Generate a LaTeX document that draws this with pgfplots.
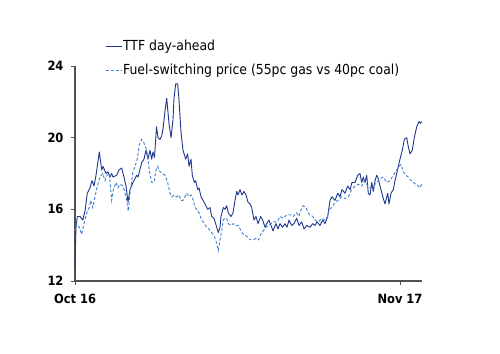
\documentclass[border=0pt]{standalone}
\usepackage{pgfplots}
\pgfplotsset{compat=1.18}
\usepackage{fontspec}
\setmainfont{DejaVu Sans Condensed}
\definecolor{ttf}{RGB}{30,55,140}
\definecolor{fsp}{RGB}{65,125,210}
\definecolor{axisgray}{RGB}{80,80,80}
\begin{document}
\begin{tikzpicture}
\useasboundingbox (-75bp,-73bp) rectangle (425bp,281bp);
\begin{axis}[
  scale only axis, width=347bp, height=215bp,
  at={(0,0)}, anchor=south west,
  xmin=0, xmax=347, ymin=12, ymax=24,
  axis lines*=left,
  axis line style={axisgray, line width=1.4bp},
  every tick/.style={axisgray, line width=0.8bp},
  tick align=outside, major tick length=4bp,
  xtick={0,325}, xticklabels={Oct 16, Nov 17},
  ytick={12,16,20,24},
  tick label style={font=\fontsize{12.8}{14}\selectfont\bfseries},
  /pgf/number format/assume math mode=true,
  xticklabel style={yshift=-5.5bp},
  yticklabel style={xshift=-4bp},
  legend style={at={(axis description cs:0.0865,1.125)}, anchor=north west,
    draw=none, fill=none, inner sep=0pt, row sep=9bp,
    font=\fontsize{13.9}{15}\selectfont,
    nodes={inner sep=1bp, text height=10bp, text depth=3bp}},
  legend cell align=left,
  legend image code/.code={\draw[#1] (0bp,0bp) -- (16bp,0bp);},
  clip=false,
]
\addplot[ttf, line width=0.9bp, line join=round] coordinates {
(0,12.8) (1.0,15.0) (2.3,15.6) (5,15.6) (7.7,15.4) (10,15.9) (12.3,16.9) (15,17.2)
(17,17.6) (19,17.3) (21,17.9) (24.3,19.2) (26.7,18.2) (28,18.4) (31,18.0) (33,18.1)
(35,17.8) (36.7,18.0) (38,17.8) (41.7,17.9) (44,18.2) (46.7,18.3) (49,17.8) (51,17.3)
(53,16.4) (55,17.1) (58,17.5) (61.7,17.9) (63,17.8) (66.7,18.6) (69,18.8) (71,19.3)
(73,18.8) (75,19.3) (76.7,18.8) (78,19.2) (79.5,18.9) (81.5,20.6) (83,20.0) (85,19.9)
(86.7,20.1) (88.3,20.6) (90,21.5) (91.7,22.2) (94,20.8) (96,20.0) (98,21.0) (99,22.2)
(100.7,23.0) (102.7,23.0) (104,22.1) (106,20.3) (108,19.3) (110.7,18.8) (112.7,19.1)
(114,18.4) (116,18.8) (117.3,17.9) (119.3,17.5) (120.7,17.6) (122.7,17.1) (124,17.2)
(126,16.7) (128,16.5) (130,16.3) (132.7,16.0) (135,16.1) (136.7,15.6) (139,15.5)
(141.7,15.0) (143.3,14.7) (145,15.0) (146,15.6) (148.3,16.1) (150,16.0) (151.7,16.2)
(153.3,15.8) (156,15.6) (158,15.8) (160,16.5) (161.7,17.0) (163,16.8) (165,17.1)
(167,16.8) (169,17.0) (171,16.8) (173,16.4) (175,16.3) (176.7,16.1) (179,15.4)
(181,15.6) (183,15.2) (185.7,15.6) (187.7,15.4) (190,15.0) (191.7,15.2) (194,15.4)
(196.7,15.0) (198,14.8) (201,15.2) (203,14.9) (205,15.2) (207.7,15.0) (210,15.2)
(212,15.0) (214,15.4) (216.7,15.1) (219,15.2) (221.7,15.5) (224,15.1) (226.7,15.3)
(229,14.9) (231.7,15.1) (235,15.0) (237.7,15.2) (240,15.1) (242,15.3) (245,15.1)
(247.7,15.4) (250,15.2) (252.7,15.6) (255,16.5) (257,16.7) (260,16.5) (262.7,16.9)
(265,16.7) (267,17.1) (270,16.9) (272.7,17.3) (275,17.1) (277,17.5) (280,17.5)
(282.7,17.9) (285,18.0) (286.7,17.5) (288.3,17.8) (290,17.5) (291.7,17.9) (293.3,16.9)
(295,16.8) (296.7,17.5) (298.3,17.0) (300,17.6) (301.7,17.9) (303.3,17.7) (305,17.3)
(308.3,16.6) (310,16.3) (312.7,16.9) (314,16.3) (316,16.9) (318.3,17.1) (320,17.6)
(321.7,18.0) (323.3,18.4) (325,18.8) (327.3,19.3) (329.3,19.9) (331.7,20.0) (333.3,19.5)
(335,19.1) (337.3,19.3) (339.3,20.0) (341.7,20.6) (344,20.9) (345.5,20.8) (346.7,20.9)
};
\addlegendentry{TTF day-ahead}
\addplot[fsp, line width=0.9bp, dash pattern=on 3bp off 2bp] coordinates {
(0,14.8) (1.7,15.2) (4.3,15.0) (6.7,14.6) (9,15.2) (11.7,15.8) (14.3,16.1) (15.7,16.5)
(17.7,16.1) (20,16.7) (22.3,17.3) (25,17.8) (27.7,18.0) (30,17.6) (32,17.9) (34.3,18.0)
(36.7,16.5) (38.3,17.1) (41,17.5) (43,17.2) (45,17.4) (48,17.3) (51,16.7) (53.3,15.9)
(55,16.9) (57.7,18.0) (60,18.4) (62.3,18.8) (64.3,19.6) (66.7,19.9) (69,19.7) (71.7,19.3)
(74.3,18.2) (76.7,17.5) (79,17.5) (81,18.2) (82.7,18.4) (85,18.1) (87.5,18.0) (90,17.9)
(92.7,17.5) (95,16.9) (96.7,16.7) (99.3,16.8) (101.5,16.7) (104,16.8) (106,16.5)
(108,16.5) (110,16.7) (111.7,16.9) (114,16.7) (116,16.8) (118.3,16.5) (120,16.1)
(121.7,16.0) (124,15.8) (126.7,15.4) (129.3,15.2) (131.7,15.0) (134,14.9) (136.7,14.7)
(139.3,14.5) (141.7,14.1) (143.3,13.7) (145,14.3) (146.7,14.8) (148.3,15.4) (150,15.5)
(151.7,15.5) (153.3,15.2) (156,15.1) (158.3,15.2) (161,15.1) (163.3,15.1) (166,14.8)
(168.3,14.6) (171.7,14.5) (175,14.3) (178.3,14.3) (181.7,14.4) (183.5,14.3) (185.7,14.6)
(188.3,14.8) (191,15.0) (193.3,15.1) (196,15.2) (198.3,15.3) (202,15.3) (205,15.6)
(208.3,15.5) (211.7,15.7) (215,15.7) (218.3,15.6) (221.7,15.8) (224,15.6) (226.7,16.1)
(228.3,16.2) (231,16.1) (233.3,15.8) (235,15.7) (237.7,15.6) (240,15.4) (243.3,15.3)
(246.7,15.5) (250,15.4) (252.7,15.6) (254.3,16.0) (256.7,16.1) (260,16.4) (263,16.5)
(266.7,16.7) (270,16.6) (273.3,16.7) (276.7,17.1) (280,17.3) (283.3,17.4) (286.7,17.3)
(289.3,17.6) (291.7,17.4) (295,17.2) (298.3,17.3) (301.7,17.5) (305,17.7) (308.3,17.8)
(311.7,17.5) (315,17.6) (318.3,17.9) (321.7,18.2) (324,18.4) (326,18.5) (328.3,18.1)
(330.7,17.9) (333.3,17.8) (336,17.6) (338.3,17.5) (340.7,17.4) (343.3,17.3) (345,17.2)
(346.7,17.4)
};
\addlegendentry{Fuel-switching price (55pc gas vs 40pc coal)}
\end{axis}
\end{tikzpicture}
\end{document}
